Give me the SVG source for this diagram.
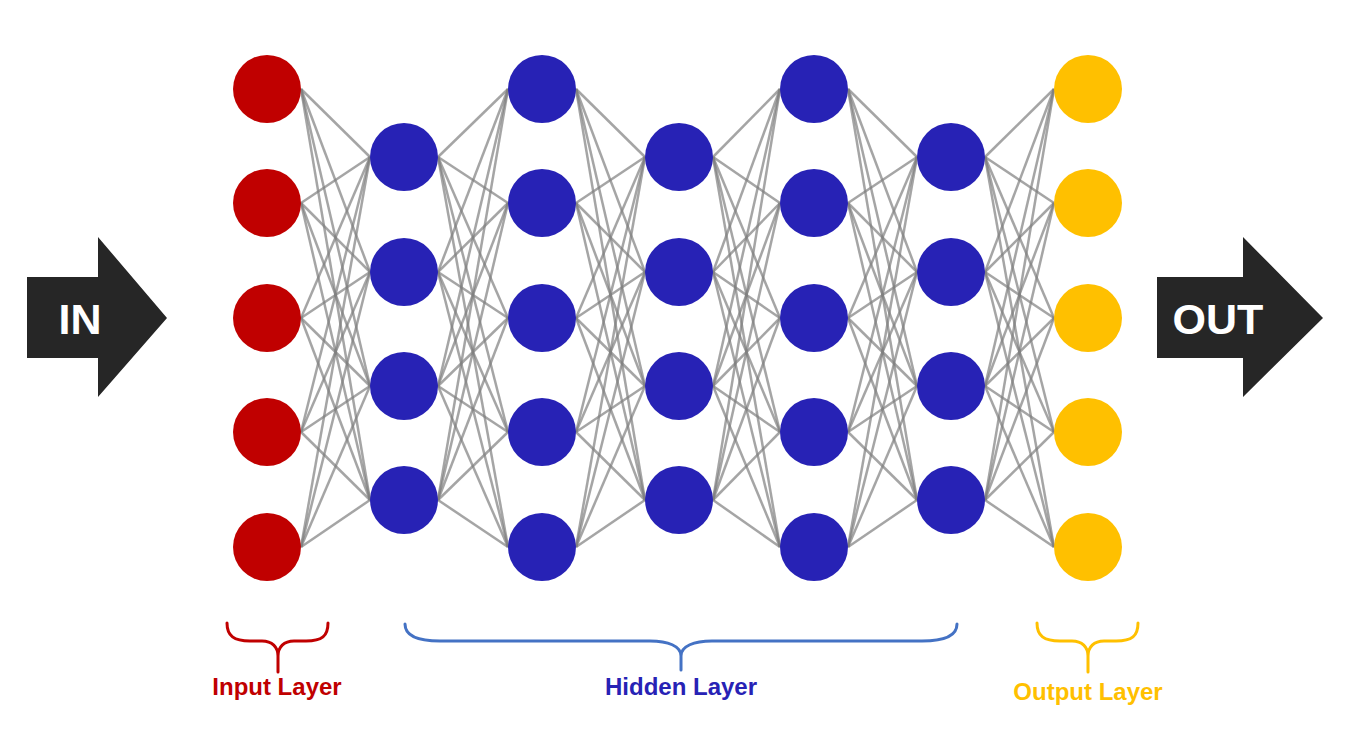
<svg xmlns="http://www.w3.org/2000/svg" width="1355" height="736" viewBox="0 0 1355 736">
<style>
.c line{stroke:#7f7f7f;stroke-opacity:0.7;stroke-width:2.5}
.in{fill:#C00000}.hid{fill:#2722B5}.out{fill:#FFC000}
.arrow{fill:#262626}
.at{font-family:"Liberation Sans",Arial,sans-serif;font-weight:bold;font-size:43px;fill:#fff;text-anchor:middle}
.lbl{font-family:"Liberation Sans",Arial,sans-serif;font-weight:bold;font-size:24px;text-anchor:middle}
.br{fill:none;stroke-width:3;stroke-linecap:round}
</style>
<rect width="1355" height="736" fill="#fff"/>
<g id="connectors" class="c">
<line x1="301" y1="89" x2="370" y2="157"/><line x1="301" y1="89" x2="370" y2="272"/><line x1="301" y1="89" x2="370" y2="386"/><line x1="301" y1="89" x2="370" y2="500"/>
<line x1="301" y1="203" x2="370" y2="157"/><line x1="301" y1="203" x2="370" y2="272"/><line x1="301" y1="203" x2="370" y2="386"/><line x1="301" y1="203" x2="370" y2="500"/>
<line x1="301" y1="318" x2="370" y2="157"/><line x1="301" y1="318" x2="370" y2="272"/><line x1="301" y1="318" x2="370" y2="386"/><line x1="301" y1="318" x2="370" y2="500"/>
<line x1="301" y1="432" x2="370" y2="157"/><line x1="301" y1="432" x2="370" y2="272"/><line x1="301" y1="432" x2="370" y2="386"/><line x1="301" y1="432" x2="370" y2="500"/>
<line x1="301" y1="547" x2="370" y2="157"/><line x1="301" y1="547" x2="370" y2="272"/><line x1="301" y1="547" x2="370" y2="386"/><line x1="301" y1="547" x2="370" y2="500"/>
<line x1="438" y1="157" x2="508" y2="89"/><line x1="438" y1="157" x2="508" y2="203"/><line x1="438" y1="157" x2="508" y2="318"/><line x1="438" y1="157" x2="508" y2="432"/><line x1="438" y1="157" x2="508" y2="547"/>
<line x1="438" y1="272" x2="508" y2="89"/><line x1="438" y1="272" x2="508" y2="203"/><line x1="438" y1="272" x2="508" y2="318"/><line x1="438" y1="272" x2="508" y2="432"/><line x1="438" y1="272" x2="508" y2="547"/>
<line x1="438" y1="386" x2="508" y2="89"/><line x1="438" y1="386" x2="508" y2="203"/><line x1="438" y1="386" x2="508" y2="318"/><line x1="438" y1="386" x2="508" y2="432"/><line x1="438" y1="386" x2="508" y2="547"/>
<line x1="438" y1="500" x2="508" y2="89"/><line x1="438" y1="500" x2="508" y2="203"/><line x1="438" y1="500" x2="508" y2="318"/><line x1="438" y1="500" x2="508" y2="432"/><line x1="438" y1="500" x2="508" y2="547"/>
<line x1="576" y1="89" x2="645" y2="157"/><line x1="576" y1="89" x2="645" y2="272"/><line x1="576" y1="89" x2="645" y2="386"/><line x1="576" y1="89" x2="645" y2="500"/>
<line x1="576" y1="203" x2="645" y2="157"/><line x1="576" y1="203" x2="645" y2="272"/><line x1="576" y1="203" x2="645" y2="386"/><line x1="576" y1="203" x2="645" y2="500"/>
<line x1="576" y1="318" x2="645" y2="157"/><line x1="576" y1="318" x2="645" y2="272"/><line x1="576" y1="318" x2="645" y2="386"/><line x1="576" y1="318" x2="645" y2="500"/>
<line x1="576" y1="432" x2="645" y2="157"/><line x1="576" y1="432" x2="645" y2="272"/><line x1="576" y1="432" x2="645" y2="386"/><line x1="576" y1="432" x2="645" y2="500"/>
<line x1="576" y1="547" x2="645" y2="157"/><line x1="576" y1="547" x2="645" y2="272"/><line x1="576" y1="547" x2="645" y2="386"/><line x1="576" y1="547" x2="645" y2="500"/>
<line x1="713" y1="157" x2="780" y2="89"/><line x1="713" y1="157" x2="780" y2="203"/><line x1="713" y1="157" x2="780" y2="318"/><line x1="713" y1="157" x2="780" y2="432"/><line x1="713" y1="157" x2="780" y2="547"/>
<line x1="713" y1="272" x2="780" y2="89"/><line x1="713" y1="272" x2="780" y2="203"/><line x1="713" y1="272" x2="780" y2="318"/><line x1="713" y1="272" x2="780" y2="432"/><line x1="713" y1="272" x2="780" y2="547"/>
<line x1="713" y1="386" x2="780" y2="89"/><line x1="713" y1="386" x2="780" y2="203"/><line x1="713" y1="386" x2="780" y2="318"/><line x1="713" y1="386" x2="780" y2="432"/><line x1="713" y1="386" x2="780" y2="547"/>
<line x1="713" y1="500" x2="780" y2="89"/><line x1="713" y1="500" x2="780" y2="203"/><line x1="713" y1="500" x2="780" y2="318"/><line x1="713" y1="500" x2="780" y2="432"/><line x1="713" y1="500" x2="780" y2="547"/>
<line x1="848" y1="89" x2="917" y2="157"/><line x1="848" y1="89" x2="917" y2="272"/><line x1="848" y1="89" x2="917" y2="386"/><line x1="848" y1="89" x2="917" y2="500"/>
<line x1="848" y1="203" x2="917" y2="157"/><line x1="848" y1="203" x2="917" y2="272"/><line x1="848" y1="203" x2="917" y2="386"/><line x1="848" y1="203" x2="917" y2="500"/>
<line x1="848" y1="318" x2="917" y2="157"/><line x1="848" y1="318" x2="917" y2="272"/><line x1="848" y1="318" x2="917" y2="386"/><line x1="848" y1="318" x2="917" y2="500"/>
<line x1="848" y1="432" x2="917" y2="157"/><line x1="848" y1="432" x2="917" y2="272"/><line x1="848" y1="432" x2="917" y2="386"/><line x1="848" y1="432" x2="917" y2="500"/>
<line x1="848" y1="547" x2="917" y2="157"/><line x1="848" y1="547" x2="917" y2="272"/><line x1="848" y1="547" x2="917" y2="386"/><line x1="848" y1="547" x2="917" y2="500"/>
<line x1="985" y1="157" x2="1054" y2="89"/><line x1="985" y1="157" x2="1054" y2="203"/><line x1="985" y1="157" x2="1054" y2="318"/><line x1="985" y1="157" x2="1054" y2="432"/><line x1="985" y1="157" x2="1054" y2="547"/>
<line x1="985" y1="272" x2="1054" y2="89"/><line x1="985" y1="272" x2="1054" y2="203"/><line x1="985" y1="272" x2="1054" y2="318"/><line x1="985" y1="272" x2="1054" y2="432"/><line x1="985" y1="272" x2="1054" y2="547"/>
<line x1="985" y1="386" x2="1054" y2="89"/><line x1="985" y1="386" x2="1054" y2="203"/><line x1="985" y1="386" x2="1054" y2="318"/><line x1="985" y1="386" x2="1054" y2="432"/><line x1="985" y1="386" x2="1054" y2="547"/>
<line x1="985" y1="500" x2="1054" y2="89"/><line x1="985" y1="500" x2="1054" y2="203"/><line x1="985" y1="500" x2="1054" y2="318"/><line x1="985" y1="500" x2="1054" y2="432"/><line x1="985" y1="500" x2="1054" y2="547"/>
</g>
<g id="input-layer" class="in">
<circle id="i1" cx="267" cy="89" r="34"/><circle id="i2" cx="267" cy="203" r="34"/><circle id="i3" cx="267" cy="318" r="34"/><circle id="i4" cx="267" cy="432" r="34"/><circle id="i5" cx="267" cy="547" r="34"/>
</g>
<g id="hidden-1" class="hid">
<circle cx="404" cy="157" r="34"/><circle cx="404" cy="272" r="34"/><circle cx="404" cy="386" r="34"/><circle cx="404" cy="500" r="34"/>
</g>
<g id="hidden-2" class="hid">
<circle cx="542" cy="89" r="34"/><circle cx="542" cy="203" r="34"/><circle cx="542" cy="318" r="34"/><circle cx="542" cy="432" r="34"/><circle cx="542" cy="547" r="34"/>
</g>
<g id="hidden-3" class="hid">
<circle cx="679" cy="157" r="34"/><circle cx="679" cy="272" r="34"/><circle cx="679" cy="386" r="34"/><circle cx="679" cy="500" r="34"/>
</g>
<g id="hidden-4" class="hid">
<circle cx="814" cy="89" r="34"/><circle cx="814" cy="203" r="34"/><circle cx="814" cy="318" r="34"/><circle cx="814" cy="432" r="34"/><circle cx="814" cy="547" r="34"/>
</g>
<g id="hidden-5" class="hid">
<circle cx="951" cy="157" r="34"/><circle cx="951" cy="272" r="34"/><circle cx="951" cy="386" r="34"/><circle cx="951" cy="500" r="34"/>
</g>
<g id="output-layer" class="out">
<circle cx="1088" cy="89" r="34"/><circle cx="1088" cy="203" r="34"/><circle cx="1088" cy="318" r="34"/><circle cx="1088" cy="432" r="34"/><circle cx="1088" cy="547" r="34"/>
</g>
<g id="in-arrow">
<polygon class="arrow" points="27,277 98,277 98,237 167,318 98,397 98,358 27,358"/>
<text class="at" x="80" y="334">IN</text>
</g>
<g id="out-arrow">
<polygon class="arrow" points="1157,277 1243,277 1243,237 1323,318 1243,397 1243,358 1157,358"/>
<text class="at" x="1218" y="334">OUT</text>
</g>
<g id="input-brace">
<path class="br" stroke="#C00000" d="M227,623 C227,636 234,641 250,641 H262 C272,641 278,647 278,656 C278,647 284,641 294,641 H306 C322,641 328,636 328,623 M278,656 V672"/>
<text class="lbl" fill="#C00000" x="277" y="695">Input Layer</text>
</g>
<g id="hidden-brace">
<path class="br" stroke="#4472C4" d="M405,624 C405,636 418,641 440,641 H650 C668,641 681,646 681,656 C681,646 694,641 712,641 H922 C944,641 957,636 957,624 M681,656 V670"/>
<text class="lbl" fill="#2722B5" x="681" y="695">Hidden Layer</text>
</g>
<g id="output-brace">
<path class="br" stroke="#FFC000" d="M1037,623 C1037,636 1044,641 1060,641 H1072 C1082,641 1088,647 1088,656 C1088,647 1094,641 1104,641 H1116 C1132,641 1138,636 1138,623 M1088,656 V672"/>
<text class="lbl" fill="#FFC000" x="1088" y="700">Output Layer</text>
</g>
</svg>
